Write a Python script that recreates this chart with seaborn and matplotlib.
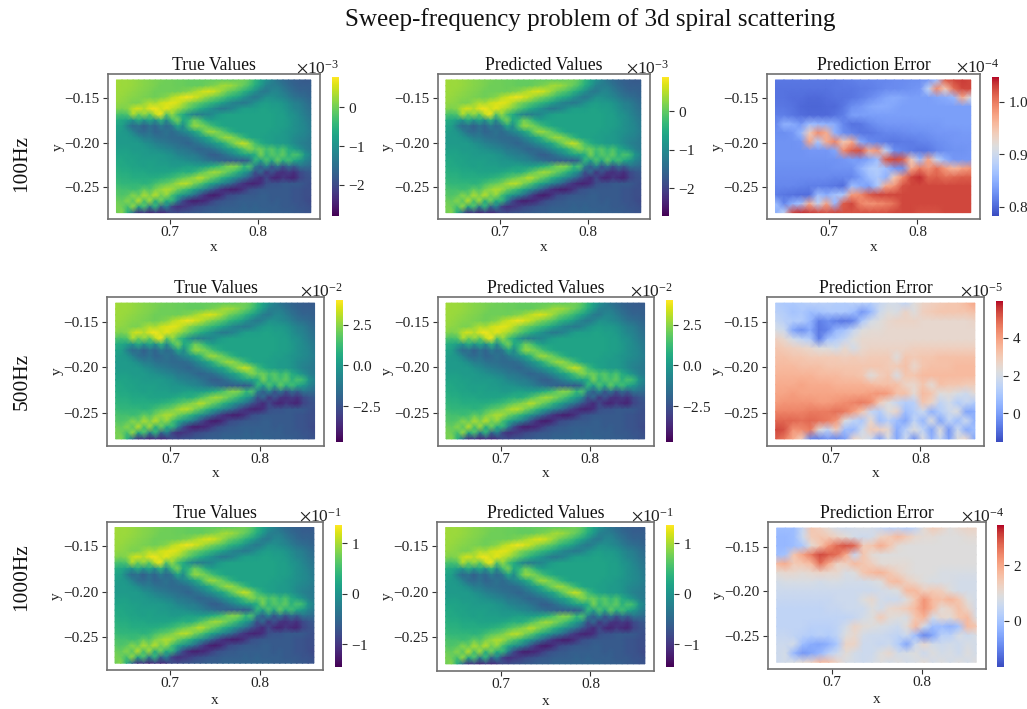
import numpy as np
import pandas as pd
import matplotlib
matplotlib.use("Agg")
import matplotlib.pyplot as plt
from matplotlib.ticker import ScalarFormatter
import seaborn as sns

# values, as percent of each colorbar range
field_shape = [
    [86,85,85,84,83,82,81,80,79,78,78,77,77,76,76,76,76,76,76,76,76,76,78,78,74,66,58,50,44,38,34,32,30,29,28,28],
    [86,85,85,84,83,82,81,80,78,78,78,77,77,76,76,76,78,80,82,86,86,84,80,76,70,62,54,44,42,42,38,34,32,30,30,30],
    [85,85,84,83,82,81,80,78,78,78,78,78,80,82,86,90,94,94,90,84,78,74,70,64,58,50,42,40,46,46,42,38,34,32,32,30],
    [85,84,83,82,81,80,79,78,80,82,88,92,96,98,94,90,84,80,76,72,66,62,58,50,44,40,44,50,50,48,46,42,38,36,34,32],
    [84,83,82,80,80,84,88,86,92,94,96,94,88,82,78,74,70,66,62,56,50,44,42,40,44,50,54,56,54,54,52,48,44,42,38,34],
    [82,80,82,90,94,88,96,98,92,96,90,86,80,74,68,62,56,50,44,40,42,46,52,56,56,56,58,58,56,56,54,50,46,44,40,36],
    [72,70,72,88,76,84,74,90,98,72,84,70,62,50,44,42,44,46,52,56,58,58,58,58,58,58,58,58,58,56,56,52,50,46,42,38],
    [62,60,56,50,62,50,60,48,66,46,68,80,60,66,78,72,62,56,58,58,58,58,58,58,58,58,58,58,58,56,56,54,50,48,44,40],
    [58,56,44,34,38,30,38,32,42,34,40,60,48,70,84,82,78,70,64,60,58,58,58,58,58,58,58,58,58,56,56,54,50,48,46,40],
    [56,54,52,44,36,34,38,32,34,38,34,40,46,50,58,66,80,86,82,76,68,62,58,58,58,58,58,58,56,56,54,52,50,48,46,42],
    [54,54,54,52,48,42,42,38,36,36,34,34,34,38,44,50,56,64,74,82,86,82,74,66,60,58,58,56,56,54,54,52,48,46,44,40],
    [54,54,54,54,54,50,48,44,42,40,38,36,34,32,36,40,46,50,56,60,70,80,88,92,82,70,62,58,56,54,54,52,48,44,42,40],
    [56,56,56,54,54,54,52,50,48,46,44,40,40,38,34,32,34,36,42,48,54,58,66,74,82,76,78,70,74,66,72,62,56,50,44,40],
    [58,58,58,56,56,54,54,54,54,52,50,46,44,42,42,38,34,30,30,34,40,46,52,58,58,62,80,66,74,70,76,64,72,68,52,44],
    [60,60,58,58,56,56,56,56,54,54,52,52,50,48,46,44,40,38,34,32,30,30,30,28,36,66,54,72,58,76,62,70,60,54,46,40],
    [62,60,60,58,58,56,58,56,56,56,54,54,56,58,56,56,58,62,66,72,80,82,78,66,72,42,30,46,26,40,24,36,28,38,36,34],
    [64,62,62,60,60,60,58,58,58,58,60,62,64,62,66,72,78,84,86,82,76,70,62,54,46,24,34,16,26,16,14,18,14,22,26,28],
    [66,64,64,62,62,62,62,62,64,66,68,72,76,80,84,90,84,78,72,64,58,50,44,36,26,18,12,22,12,10,16,12,10,20,24,26],
    [68,66,66,66,66,64,66,70,74,76,80,86,90,88,80,74,66,58,52,44,38,30,20,14,10,10,14,24,26,26,28,28,28,28,26,24],
    [72,70,70,68,70,76,72,80,84,88,86,78,72,66,58,50,42,32,22,14,10,8,10,16,24,26,28,28,28,28,28,28,26,26,24,24],
    [74,72,74,82,76,88,80,90,78,84,70,60,52,46,36,24,14,8,8,14,22,24,26,28,28,28,30,30,28,28,28,28,26,26,24,24],
    [78,76,82,74,90,70,86,62,78,60,66,42,22,12,8,10,12,18,24,26,28,28,30,30,30,30,30,30,28,30,28,28,26,26,24,22],
    [80,78,70,84,56,72,40,66,30,44,20,14,16,18,22,24,26,28,28,30,30,30,30,32,30,32,30,30,30,30,28,28,28,26,26,24],
    [78,82,62,36,14,20,10,18,12,16,24,22,26,26,28,28,30,30,30,32,32,32,32,32,32,32,32,32,30,30,30,30,28,28,26,26],
]
error_100 = [
    [10,10,10,10,10,10,10,10,11,12,13,13,14,14,15,15,16,16,18,30,88,92,94,92],
    [9,9,9,9,9,9,9,10,10,10,11,12,13,15,15,16,17,18,40,78,60,84,92,92],
    [9,9,8,8,7,7,8,9,9,10,12,15,18,22,24,22,20,20,20,22,24,28,70,45],
    [10,10,9,7,6,6,7,7,10,16,18,22,24,24,22,20,20,20,20,20,20,20,20,20],
    [12,12,10,8,7,7,7,9,12,20,20,20,20,20,20,20,20,20,20,20,20,20,20,20],
    [14,26,24,18,30,28,26,24,14,9,10,14,17,18,18,18,18,19,19,19,20,20,20,20],
    [16,16,18,28,60,78,70,26,16,13,10,10,12,14,14,15,16,16,17,18,18,18,19,19],
    [17,17,17,18,72,34,70,80,60,70,24,16,13,11,10,11,11,13,14,16,17,18,18,18],
    [17,17,17,17,18,18,18,22,78,88,90,70,76,40,16,13,11,9,10,14,16,17,17,18],
    [17,17,17,17,17,17,17,17,18,20,18,22,30,88,92,88,60,30,72,40,26,18,18,18],
    [16,16,16,16,16,16,16,17,17,17,26,34,36,30,18,16,70,82,76,84,74,66,72,76],
    [15,15,15,15,15,15,15,14,14,14,20,30,34,26,60,78,92,96,86,88,84,86,88,88],
    [14,14,14,13,12,12,11,10,8,30,24,20,34,70,76,90,92,92,92,92,92,92,92,92],
    [12,10,9,8,8,30,24,32,34,74,78,88,92,92,92,92,92,92,92,92,92,92,92,92],
    [30,14,26,32,70,40,72,28,88,92,80,76,78,80,84,92,92,92,92,92,92,92,92,92],
    [26,40,92,96,94,92,90,92,90,90,90,90,90,90,92,92,92,90,90,90,92,92,92,92],
]
error_500 = [
    [36,34,34,36,38,38,38,36,36,38,38,36,42,46,46,40,50,56,58,60,62,62,66,72],
    [38,36,32,34,30,32,34,34,34,30,18,28,44,50,48,56,50,58,60,62,62,62,62,64],
    [42,38,36,36,28,12,16,12,10,14,34,46,50,54,56,56,56,54,54,54,54,54,54,56],
    [48,44,22,16,24,10,14,28,32,42,50,52,52,54,54,54,54,54,54,54,54,54,54,54],
    [58,54,46,40,36,12,32,36,42,50,54,54,54,54,54,54,54,54,54,54,54,54,54,54],
    [62,60,58,56,54,50,50,46,54,46,54,56,56,56,56,56,58,58,58,58,58,58,58,58],
    [64,64,62,62,60,60,60,60,58,60,58,60,60,60,50,62,60,62,62,64,64,64,64,64],
    [66,66,66,64,64,64,62,62,62,62,62,62,62,60,60,64,54,62,64,64,64,66,66,66],
    [68,68,68,68,68,66,66,66,64,64,62,50,58,62,48,62,62,66,66,66,66,66,66,66],
    [70,70,70,72,70,70,70,68,68,68,68,66,64,64,64,56,54,62,52,64,62,62,60,60],
    [72,72,74,72,72,72,72,72,72,72,72,74,76,74,64,64,52,66,62,50,52,48,44,52],
    [74,76,76,76,76,74,74,76,78,80,82,78,60,50,42,36,38,62,56,40,46,36,42,36],
    [80,80,80,80,82,82,82,84,82,74,62,42,36,50,56,30,36,44,26,36,44,50,22,24],
    [86,86,86,84,86,84,82,76,50,40,34,54,30,38,30,22,40,28,50,22,40,30,44,26],
    [92,90,76,78,82,52,40,60,30,28,44,60,58,54,24,38,50,40,22,50,18,44,24,30],
    [88,82,70,58,14,12,18,14,20,56,50,44,20,48,22,44,16,50,26,44,20,50,54,22],
]
error_1000 = [
    [30,30,30,42,62,58,52,46,44,46,48,46,42,38,40,36,40,52,60,56,50,54,56,56],
    [28,28,30,44,60,62,60,56,52,46,44,46,56,60,66,60,54,52,52,50,50,50,52,52],
    [28,28,30,34,52,62,76,86,90,86,60,62,70,62,52,50,50,50,50,50,50,50,50,50],
    [30,32,62,72,82,92,88,84,70,42,62,52,50,50,50,50,50,50,50,50,50,50,50,50],
    [66,70,60,62,66,84,70,56,58,66,62,58,52,52,52,52,50,50,50,50,50,50,50,50],
    [52,54,54,52,54,56,54,54,48,50,62,66,68,62,56,52,50,50,50,48,48,48,48,48],
    [46,48,48,48,48,46,48,48,46,46,46,48,50,64,66,58,54,50,48,48,48,46,46,46],
    [44,44,44,44,44,44,44,44,44,44,44,44,46,48,50,66,66,58,60,58,50,46,46,46],
    [42,42,42,42,42,42,42,44,44,44,50,54,46,44,44,50,62,76,66,64,68,62,50,46],
    [40,40,40,40,40,40,42,42,44,44,44,50,46,54,56,60,66,76,66,52,56,64,56,46],
    [40,40,40,40,40,40,40,40,40,42,46,50,60,52,50,48,62,68,46,54,52,62,66,48],
    [40,40,40,40,38,38,38,40,46,56,52,50,48,46,44,52,66,46,30,30,26,32,66,62],
    [42,42,40,38,36,38,36,40,50,54,46,44,44,42,40,44,30,14,22,38,38,48,44,48],
    [44,44,46,30,24,22,26,34,56,56,44,44,42,44,36,22,44,54,46,44,46,44,48,46],
    [44,46,28,18,22,28,38,44,52,46,44,44,50,54,46,48,50,44,50,46,48,44,50,46],
    [44,46,48,52,56,66,64,56,48,46,44,46,50,46,50,46,48,52,46,50,46,50,46,50],
]

freqs = ["100Hz", "500Hz", "1000Hz"]
titles = ["True Values", "Predicted Values", "Prediction Error"]
# colorbar ranges: rows are frequencies, columns are the three panels
ranges = [
    [(-2.8e-3, 0.77e-3), (-2.72e-3, 0.875e-3), (0.782e-4, 1.048e-4)],
    [(-4.7e-2, 4.02e-2), (-4.7e-2, 4.02e-2), (-1.49e-5, 5.95e-5)],
    [(-1.45e-1, 1.36e-1), (-1.45e-1, 1.36e-1), (-1.65e-4, 3.44e-4)],
]
cbar_ticks = [
    [[-2e-3, -1e-3, 0], [-2e-3, -1e-3, 0], [0.8e-4, 0.9e-4, 1.0e-4]],
    [[-2.5e-2, 0, 2.5e-2], [-2.5e-2, 0, 2.5e-2], [0, 2e-5, 4e-5]],
    [[-1e-1, 0, 1e-1], [-1e-1, 0, 1e-1], [0, 2e-4]],
]
errors = [error_100, error_500, error_1000]
x_ticks = [0.7, 0.8]
y_ticks = [-0.15, -0.20, -0.25]
x_extent = (0.639, 0.8605)
y_extent = (-0.1293, -0.279)
x_lim = (0.6297, 0.871)
y_lim = (-0.2865, -0.1229)

# panel frames and colorbars in pixels: left, right, top, bottom
frames = [
    [(108.3, 320, 74.3, 219.3), (437.7, 650, 74.3, 219.3), (767.3, 980, 74.3, 219.3)],
    [(107.3, 324, 297.3, 445.7), (437.7, 654, 297.3, 445.7), (767.3, 984.3, 297.3, 445.7)],
    [(106.7, 323.3, 521.7, 670), (437.3, 654.3, 521.7, 670.7), (768.3, 985.7, 522.3, 669)],
]
bars = [
    [(332.3, 339.3, 77.3, 216), (662, 669, 77.3, 216), (992.3, 999.3, 76.7, 216)],
    [(335.7, 343, 300.3, 441.7), (666, 673.3, 300.3, 441.7), (996.3, 1003.3, 300.7, 441.7)],
    [(335, 342.3, 525, 666.7), (666.3, 673.7, 525, 666.7), (997.3, 1004.3, 525, 666.7)],
]
W, H = 1027, 709

sns.set_theme(style="white")
plt.rcParams['font.family'] = ['Liberation Serif', 'DejaVu Serif']
plt.rcParams['mathtext.fontset'] = 'stix'
plt.rcParams['axes.unicode_minus'] = True


def px_axes(fig, box):
    l, r, t, b = box
    return fig.add_axes([l / W, 1 - b / H, (r - l) / W, (b - t) / H])


fig = plt.figure(figsize=(W / 100, H / 100), dpi=100)

for i in range(3):
    for j in range(3):
        ax = px_axes(fig, frames[i][j])
        cax = px_axes(fig, bars[i][j])
        vmin, vmax = ranges[i][j]
        pct = field_shape if j < 2 else errors[i]
        df = pd.DataFrame(vmin + np.array(pct) / 100 * (vmax - vmin))
        nrows, ncols = df.shape

        fmt = ScalarFormatter(useMathText=True, useOffset=False)
        fmt.set_powerlimits((0, 0))
        sns.heatmap(df, ax=ax, cbar_ax=cax, cmap="viridis" if j < 2 else "coolwarm",
                    vmin=vmin, vmax=vmax, shading="gouraud",
                    xticklabels=False, yticklabels=False, cbar_kws={"format": fmt})

        # heatmap works in cell index, so convert the x/y readings to it
        to_col = lambda v: (v - x_extent[0]) / (x_extent[1] - x_extent[0]) * (ncols - 1)
        to_row = lambda v: (v - y_extent[0]) / (y_extent[1] - y_extent[0]) * (nrows - 1)
        ax.set_xlim(to_col(x_lim[0]), to_col(x_lim[1]))
        ax.set_ylim(to_row(y_lim[0]), to_row(y_lim[1]))
        ax.set_xticks([to_col(v) for v in x_ticks], [f"{v:.1f}" for v in x_ticks])
        ax.set_yticks([to_row(v) for v in y_ticks], [f"\u2212{abs(v):.2f}" for v in y_ticks])
        ax.tick_params(axis="both", labelsize=11, length=3.5, width=0.8, color="#333333",
                       labelcolor="#222222", bottom=True, left=True, rotation=0, pad=2.5)
        ax.tick_params(axis="x", pad=1.5)
        ax.set_xlabel("x", fontsize=11, color="#222222", labelpad=[1, 1, 3][i])
        ax.set_ylabel("y", fontsize=11, color="#222222", labelpad=0)
        ax.set_title(titles[j], fontsize=12.7, color="#111111", pad=3)
        for s in ax.spines.values():
            s.set_visible(True)
            s.set_color("#707070")
            s.set_linewidth(1.2)

        cb = ax.collections[0].colorbar
        cb.set_ticks(cbar_ticks[i][j])
        cax.tick_params(labelsize=11, length=3.5, width=0.8, color="#333333",
                        labelcolor="#222222", right=True, pad=3)
        cax.yaxis.get_offset_text().set_fontsize(12.5)
        cax.yaxis.get_offset_text().set_color("#222222")

for name, yc in zip(freqs, [163, 381, 577]):
    fig.text(22 / W, 1 - yc / H, name, rotation=90, fontsize=15.4, ha="center", va="center",
             color="#111111")

fig.text(590 / W, 1 - 20 / H, "Sweep-frequency problem of 3d spiral scattering",
         fontsize=18.1, ha="center", va="center", color="#111111")

fig.savefig("out.png", dpi=100)
